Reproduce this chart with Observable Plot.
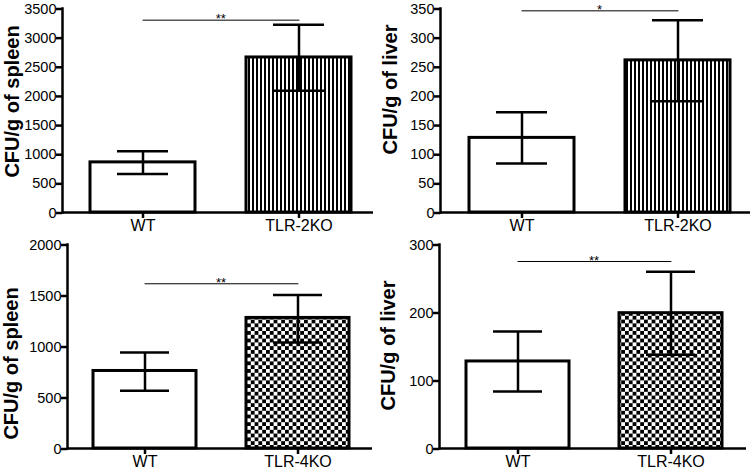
<!DOCTYPE html>
<html><head><meta charset="utf-8">
<script src="https://cdn.jsdelivr.net/npm/d3@7"></script>
<script src="https://cdn.jsdelivr.net/npm/@observablehq/plot@0.6"></script>
<style>
html,body{margin:0;padding:0;background:#fff;}
#wrap{position:relative;width:756px;height:472px;overflow:hidden;background:#fff;}
.panel{position:absolute;}
.panel svg{overflow:visible;}
</style></head><body>
<svg width="0" height="0" style="position:absolute">
<defs>
<pattern id="stripes" patternUnits="userSpaceOnUse" width="4" height="4">
<rect width="4" height="4" fill="#fff"/><rect width="2" height="4" fill="#000"/>
</pattern>
<pattern id="checks" patternUnits="userSpaceOnUse" width="7.6" height="7.6">
<rect width="7.6" height="7.6" fill="#fff"/><rect width="3.8" height="3.8" fill="#000"/><rect x="3.8" y="3.8" width="3.8" height="3.8" fill="#000"/>
</pattern>
</defs></svg>
<div id="wrap"></div>
<script>
// ---- data ----
const groupsTLR2 = ["WT", "TLR-2KO"];
const groupsTLR4 = ["WT", "TLR-4KO"];

const spleenTLR2Mean = [860, 2660];
const spleenTLR2Low  = [660, 2090];
const spleenTLR2High = [1050, 3220];

const liverTLR2Mean = [128, 261];
const liverTLR2Low  = [84, 191];
const liverTLR2High = [172, 330];

const spleenTLR4Mean = [760, 1280];
const spleenTLR4Low  = [565, 1040];
const spleenTLR4High = [940, 1505];

const liverTLR4Mean = [128, 199];
const liverTLR4Low  = [84, 138];
const liverTLR4High = [172, 260];

const yLabels = ["CFU/g of spleen", "CFU/g of liver", "CFU/g of spleen", "CFU/g of liver"];
const yTicksSpleen2 = [0, 500, 1000, 1500, 2000, 2500, 3000, 3500];
const yTicksLiver2  = [0, 50, 100, 150, 200, 250, 300, 350];
const yTicksSpleen4 = [0, 500, 1000, 1500, 2000];
const yTicksLiver4  = [0, 100, 200, 300];
const sigLevels = [3300, 346, 1615, 275];
const sigMarks  = ["**", "*", "**", "**"];

// ---- layout (styles only) ----
const panels = [
  {groups: groupsTLR2, mean: spleenTLR2Mean, lo: spleenTLR2Low, hi: spleenTLR2High, ticks: yTicksSpleen2, pattern: "url(#stripes)",
   left: 0, top: 0, ml: 62, mr: 5, range: [90, 351], labDx: -50, labDy: -9},
  {groups: groupsTLR2, mean: liverTLR2Mean, lo: liverTLR2Low, hi: liverTLR2High, ticks: yTicksLiver2, pattern: "url(#stripes)",
   left: 378, top: 0, ml: 62, mr: 6, range: [90, 352], labDx: -50, labDy: -21},
  {groups: groupsTLR4, mean: spleenTLR4Mean, lo: spleenTLR4Low, hi: spleenTLR4High, ticks: yTicksSpleen4, pattern: "url(#checks)",
   left: 0, top: 236, ml: 67, mr: 6, range: [92, 349], labDx: -56, labDy: 17},
  {groups: groupsTLR4, mean: liverTLR4Mean, lo: liverTLR4Low, hi: liverTLR4High, ticks: yTicksLiver4, pattern: "url(#checks)",
   left: 378, top: 236, ml: 61, mr: 10, range: [87, 344], labDx: -51, labDy: -1}
];

const FONT = "'Liberation Sans', Arial, Helvetica, sans-serif";
const wrap = document.getElementById("wrap");
const padInner = 0.33;

panels.forEach((p, k) => {
  const rows = p.groups.map((g, i) => ({g, mean: p.mean[i], lo: p.lo[i], hi: p.hi[i]}));
  const step = (p.range[1] - p.range[0]) / (2 - padInner);
  const sigRows = p.groups.map(g => ({g, y: sigLevels[k]}));
  const sigText = [{g: p.groups[1], y: sigLevels[k], t: sigMarks[k]}];
  const chart = Plot.plot({
    width: 378, height: 236,
    marginLeft: p.ml, marginRight: p.mr, marginTop: 8, marginBottom: 24,
    style: {fontFamily: FONT, color: "#000", background: "transparent", overflow: "visible"},
    x: {type: "band", domain: p.groups, range: p.range, paddingInner: padInner, paddingOuter: 0},
    y: {domain: [0, p.ticks[p.ticks.length - 1]]},
    marks: [
      Plot.barY([rows[0]], {x: "g", y: "mean", fill: "white", stroke: "black", strokeWidth: 3}),
      Plot.barY([rows[1]], {x: "g", y: "mean", fill: p.pattern, stroke: "black", strokeWidth: 3}),
      Plot.ruleX(rows, {x: "g", y1: "lo", y2: "hi", stroke: "black", strokeWidth: 2.5}),
      Plot.tickY(rows, {x: "g", y: "hi", insetLeft: 27, insetRight: 27, stroke: "black", strokeWidth: 2.5}),
      Plot.tickY(rows, {x: "g", y: "lo", insetLeft: 27, insetRight: 27, stroke: "black", strokeWidth: 2.5}),
      Plot.line(sigRows, {x: "g", y: "y", stroke: "black", strokeWidth: 1}),
      Plot.text(sigText, {x: "g", y: "y", text: "t", dx: -step / 2, dy: -1, fontSize: 13, fill: "black"}),
      Plot.ruleY([0], {stroke: "black", strokeWidth: 2.5}),
      Plot.frame({anchor: "left", stroke: "black", strokeWidth: 2.5}),
      Plot.axisY({ticks: p.ticks, tickFormat: d => String(d), tickSize: 6, tickPadding: 0, strokeWidth: 2.5, fontSize: 14.5, dy: 0.5, label: null}),
      Plot.axisX({tickSize: 6, tickPadding: 1, strokeWidth: 2.5, fontSize: 16, label: null}),
      Plot.text([yLabels[k]], {text: d => d, frameAnchor: "left", textAnchor: "middle", rotate: -90, dx: p.labDx, dy: p.labDy,
        fontSize: 20, fontWeight: "bold", fill: "black"})
    ]
  });
  const div = document.createElement("div");
  div.className = "panel";
  div.style.left = p.left + "px";
  div.style.top = p.top + "px";
  div.appendChild(chart);
  wrap.appendChild(div);
});
</script>
</body></html>
